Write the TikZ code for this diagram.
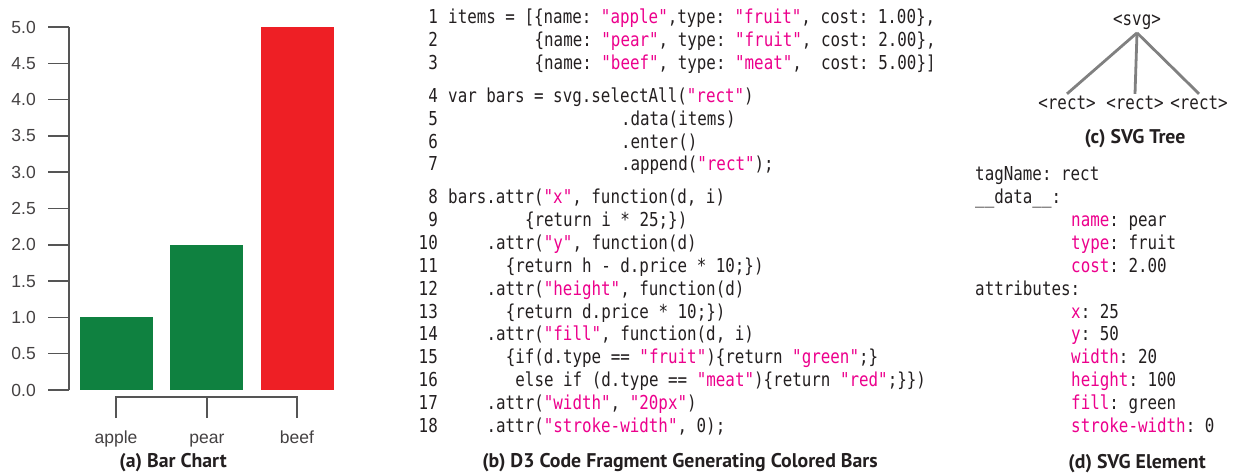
\documentclass[tikz,border=0pt]{standalone}
\usepackage{fontspec}
\setmainfont{Liberation Sans}
\setmonofont[FakeStretch=0.826]{DejaVu Sans Mono}
\newfontfamily\capfont{PT Sans}
\definecolor{mag}{HTML}{EC008C}
\definecolor{txt}{HTML}{231F20}
\definecolor{bargreen}{HTML}{0F8140}
\definecolor{barred}{HTML}{EE1F25}
\definecolor{axisgray}{HTML}{555555}
\definecolor{treegray}{HTML}{808080}
\newcommand\q[1]{\textcolor{mag}{"#1"}}
\newcommand\kk[1]{\textcolor{mag}{#1}}
\tikzset{
  code/.style={font=\ttfamily\fontsize{19.2}{22}\selectfont\frenchspacing, inner sep=0pt, text=txt, anchor=base west},
  lnum/.style={code, anchor=base east},
  axisline/.style={draw=axisgray, line width=1.4pt},
  ticklab/.style={font=\fontsize{17.5}{20}\selectfont, text=txt!85, inner sep=0pt, anchor=east},
  catlab/.style={font=\fontsize{17.5}{20}\selectfont, text=txt!85, inner sep=0pt, anchor=base},
  caption/.style={font=\capfont\bfseries\fontsize{19.8}{22}\selectfont, text=txt, inner sep=0pt, anchor=base},
  treenode/.style={code, anchor=base, inner sep=2.5pt},
  treeedge/.style={draw=treegray, line width=2.8pt},
}
\begin{document}
\begin{tikzpicture}[x=1pt,y=-1pt]
\useasboundingbox (0,0) rectangle (1233,473);

% ---------- (a) Bar chart ----------
\draw[axisline] (69,27) -- (69,390);
\foreach \v/\t in {0/0.0,1/0.5,2/1.0,3/1.5,4/2.0,5/2.5,6/3.0,7/3.5,8/4.0,9/4.5,10/5.0}{
  \draw[axisline] (48,{390-36.3*\v}) -- (69,{390-36.3*\v});
  \node[ticklab] (t\v) at (36,{390-36.3*\v}) {\t};
}
\fill[bargreen] (80,317) rectangle (153,390);
\fill[bargreen] (170,245) rectangle (243,390);
\fill[barred] (261,27) rectangle (334,390);
\draw[axisline] (116,418) -- (116,397) -- (297,397) -- (297,418);
\draw[axisline] (207,397) -- (207,418);
\node[catlab] (capple) at (116,443) {apple};
\node[catlab] (cpear) at (207,443) {pear};
\node[catlab] (cbeef) at (297,443) {beef};
\node[caption] (capa) at (173,467) {(a) Bar Chart};

% ---------- (b) Code ----------
\def\cw{9.6}
\foreach \n/\y in {1/24,2/47,3/70,4/103,5/126,6/148.5,7/171,8/204,9/226.8,10/249.6,11/272.4,12/295.2,13/318,14/340.8,15/363.6,16/386.4,17/409.2,18/432}{
  \node[lnum] (n\n) at (438,\y) {\n};
}
\node[code] (c1) at (448,24) {items = [\{name: \q{apple},type: \q{fruit}, cost: 1.00\},};
\node[code] (c2) at ({448+9*\cw},47) {\{name: \q{pear}, type: \q{fruit}, cost: 2.00\},};
\node[code] (c3) at ({448+9*\cw},70) {\{name: \q{beef}, type: \q{meat},~ cost: 5.00\}]};
\node[code] (c4) at (448,103) {var bars = svg.selectAll(\q{rect})};
\node[code] (c5) at ({448+18*\cw},126) {.data(items)};
\node[code] (c6) at ({448+18*\cw},148.5) {.enter()};
\node[code] (c7) at ({448+18*\cw},171) {.append(\q{rect});};
\node[code] (c8) at (448,204) {bars.attr(\q{x}, function(d, i)};
\node[code] (c9) at ({448+8*\cw},226.8) {\{return i * 25;\})};
\node[code] (c10) at ({448+4*\cw},249.6) {.attr(\q{y}, function(d)};
\node[code] (c11) at ({448+6*\cw},272.4) {\{return h - d.price * 10;\})};
\node[code] (c12) at ({448+4*\cw},295.2) {.attr(\q{height}, function(d)};
\node[code] (c13) at ({448+6*\cw},318) {\{return d.price * 10;\})};
\node[code] (c14) at ({448+4*\cw},340.8) {.attr(\q{fill}, function(d, i)};
\node[code] (c15) at ({448+6*\cw},363.6) {\{if(d.type == \q{fruit})\{return \q{green};\}};
\node[code] (c16) at ({448+7*\cw},386.4) {else if (d.type == \q{meat})\{return \q{red};\}\})};
\node[code] (c17) at ({448+4*\cw},409.2) {.attr(\q{width}, \q{20px})};
\node[code] (c18) at ({448+4*\cw},432) {.attr(\q{stroke-width}, 0);};
\node[caption] (capb) at (680,467) {(b) D3 Code Fragment Generating Colored Bars};

% ---------- (c) SVG tree ----------
\node[treenode] (svg) at (1137,26) {<svg>};
\node[treenode] (r1) at (1067,110) {<rect>};
\node[treenode] (r2) at (1135,110) {<rect>};
\node[treenode] (r3) at (1199,110) {<rect>};
\draw[treeedge] (svg.south) -- (r1.north);
\draw[treeedge] (svg.south) -- (r2.north);
\draw[treeedge] (svg.south) -- (r3.north);
\node[caption] (capc) at (1135,144) {(c) SVG Tree};

% ---------- (d) SVG element ----------
\def\ex{975}
\def\ei{1071}
\node[code] (e1) at (\ex,181) {tagName: rect};
\node[code] (e2) at (\ex,204) {\_\_data\_\_:};
\node[code] (e3) at (\ei,226.8) {\kk{name}: pear};
\node[code] (e4) at (\ei,249.6) {\kk{type}: fruit};
\node[code] (e5) at (\ei,272.4) {\kk{cost}: 2.00};
\node[code] (e6) at (\ex,295.2) {attributes:};
\node[code] (e7) at (\ei,318) {\kk{x}: 25};
\node[code] (e8) at (\ei,340.8) {\kk{y}: 50};
\node[code] (e9) at (\ei,363.6) {\kk{width}: 20};
\node[code] (e10) at (\ei,386.4) {\kk{height}: 100};
\node[code] (e11) at (\ei,409.2) {\kk{fill}: green};
\node[code] (e12) at (\ei,432) {\kk{stroke-width}: 0};
\node[caption] (capd) at (1137,468) {(d) SVG Element};
\end{tikzpicture}
\end{document}
